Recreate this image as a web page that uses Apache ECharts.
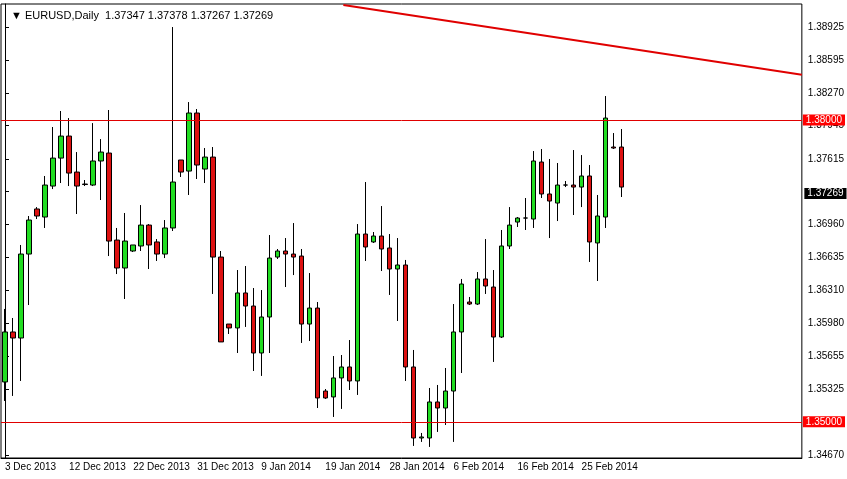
<!DOCTYPE html>
<html><head><meta charset="utf-8">
<script src="https://cdn.jsdelivr.net/npm/echarts@6/dist/echarts.min.js"></script>
<style>html,body{margin:0;padding:0;background:#fff}#c{width:847px;height:479px}</style>
</head><body><div id="c"></div>
<script>
const dates = ["3 Dec 2013","4 Dec 2013","5 Dec 2013","6 Dec 2013","8 Dec 2013","9 Dec 2013","10 Dec 2013","11 Dec 2013",
"12 Dec 2013","13 Dec 2013","15 Dec 2013","16 Dec 2013","17 Dec 2013","18 Dec 2013","19 Dec 2013","20 Dec 2013",
"22 Dec 2013","23 Dec 2013","24 Dec 2013","25 Dec 2013","26 Dec 2013","27 Dec 2013","29 Dec 2013","30 Dec 2013",
"31 Dec 2013","1 Jan 2014","2 Jan 2014","3 Jan 2014","5 Jan 2014","6 Jan 2014","7 Jan 2014","8 Jan 2014",
"9 Jan 2014","10 Jan 2014","12 Jan 2014","13 Jan 2014","14 Jan 2014","15 Jan 2014","16 Jan 2014","17 Jan 2014",
"19 Jan 2014","20 Jan 2014","21 Jan 2014","22 Jan 2014","23 Jan 2014","24 Jan 2014","26 Jan 2014","27 Jan 2014",
"28 Jan 2014","29 Jan 2014","30 Jan 2014","31 Jan 2014","2 Feb 2014","3 Feb 2014","4 Feb 2014","5 Feb 2014",
"6 Feb 2014","7 Feb 2014","9 Feb 2014","10 Feb 2014","11 Feb 2014","12 Feb 2014","13 Feb 2014","14 Feb 2014",
"16 Feb 2014","17 Feb 2014","18 Feb 2014","19 Feb 2014","20 Feb 2014","21 Feb 2014","23 Feb 2014","24 Feb 2014",
"25 Feb 2014","26 Feb 2014","27 Feb 2014","28 Feb 2014","2 Mar 2014","3 Mar 2014"];
const opens = [1.35396,1.35893,1.35833,1.36668,1.37116,1.37036,1.37344,1.37622,1.37841,1.37483,1.37364,1.37354,1.37593,1.37672,1.36807,1.36529,1.36698,1.36748,1.36956,1.36788,1.36668,1.36927,1.37603,1.37493,1.38070,1.37513,1.37632,1.36638,1.35972,1.35933,1.36281,1.36151,1.35684,1.36042,1.36638,1.36698,1.36668,1.36648,1.35972,1.36131,1.35306,1.35247,1.35436,1.35545,1.35406,1.36867,1.36788,1.36847,1.36728,1.36519,1.36559,1.35545,1.34839,1.34839,1.35197,1.35137,1.35306,1.35893,1.36191,1.36171,1.36420,1.36340,1.35843,1.36748,1.36986,1.37026,1.37016,1.37583,1.37265,1.37175,1.37354,1.37354,1.37334,1.37444,1.36778,1.37036,1.37732,1.37732];
const closes = [1.35893,1.35833,1.36668,1.37006,1.37046,1.37354,1.37622,1.37841,1.37473,1.37344,1.37359,1.37593,1.37682,1.36797,1.36529,1.36797,1.36758,1.36956,1.36758,1.36668,1.36927,1.37384,1.37483,1.38070,1.37553,1.37632,1.36638,1.35794,1.35933,1.36281,1.36151,1.35684,1.36042,1.36628,1.36698,1.36668,1.36638,1.35972,1.36131,1.35237,1.35237,1.35436,1.35545,1.35406,1.36867,1.36738,1.36847,1.36718,1.36519,1.36559,1.35545,1.34839,1.34849,1.35197,1.35137,1.35306,1.35893,1.36370,1.36171,1.36420,1.36350,1.35843,1.36748,1.36956,1.37026,1.37026,1.37593,1.37265,1.37195,1.37354,1.37354,1.37334,1.37444,1.36788,1.37046,1.38020,1.37722,1.37334];
const lows = [1.35207,1.35257,1.35406,1.36161,1.37016,1.36927,1.37314,1.37374,1.37344,1.37066,1.37344,1.37344,1.37205,1.36648,1.36469,1.36221,1.36688,1.36698,1.36519,1.36599,1.36628,1.36897,1.37434,1.37255,1.37414,1.37374,1.36271,1.35794,1.35873,1.35684,1.35943,1.35505,1.35456,1.35684,1.36619,1.36340,1.36459,1.35784,1.35803,1.35137,1.35227,1.35048,1.35128,1.35316,1.35267,1.36599,1.36778,1.36499,1.36261,1.36002,1.35406,1.34760,1.34800,1.34750,1.34899,1.34968,1.34800,1.35485,1.36161,1.36161,1.36271,1.35595,1.35833,1.36718,1.36937,1.36907,1.36927,1.37225,1.36827,1.36996,1.37334,1.37056,1.37135,1.36589,1.36400,1.36927,1.37712,1.37235];
const highs = [1.36122,1.36032,1.36758,1.37046,1.37135,1.37444,1.37931,1.38090,1.38020,1.37682,1.37404,1.37970,1.37811,1.38100,1.36927,1.37076,1.36758,1.37155,1.36966,1.36817,1.37006,1.38925,1.37603,1.38179,1.38110,1.37722,1.37732,1.36698,1.35972,1.36509,1.36549,1.36330,1.36310,1.36857,1.36718,1.36827,1.36976,1.36718,1.36479,1.36191,1.35326,1.35654,1.35664,1.35813,1.36966,1.37384,1.36887,1.37145,1.36867,1.36827,1.36609,1.35714,1.34889,1.35336,1.35366,1.35535,1.36171,1.36420,1.36241,1.36489,1.36817,1.36509,1.36907,1.37135,1.37036,1.37225,1.37692,1.37712,1.37613,1.37573,1.37394,1.37702,1.37652,1.37553,1.37255,1.38239,1.37871,1.37911];
const priceTicks = [1.34670,1.35000,1.35325,1.35655,1.35980,1.36310,1.36635,1.36960,1.37290,1.37615,1.37945,1.38270,1.38595,1.38925];
const priceLabels = [1.34670,1.35325,1.35655,1.35980,1.36310,1.36635,1.36960,1.37615,1.37945,1.38270,1.38595,1.38925];
const levels = [1.38000, 1.35000];
const bidPrice = 1.37269;
const headerText = "EURUSD,Daily  1.37347 1.37378 1.37267 1.37269";
const trendStart = [42.25, 1.39144];
const trendEnd = [99.5, 1.38451];

const SLOTS = 100;
const cats = dates.concat(new Array(SLOTS - dates.length).fill(''));
const ohlc = opens.map((o, i) => [o, closes[i], lows[i], highs[i]]);
const FONT = 'Liberation Sans';
const boxLabel = (txt, bg) => ({show: true, position: 'end', distance: 1, formatter: txt, color: '#fff',
  backgroundColor: bg, padding: [1, 3, 0, 3], fontFamily: FONT, fontSize: 10});

const chart = echarts.init(document.getElementById('c'), null, {renderer: 'canvas'});
chart.setOption({
  animation: false,
  backgroundColor: '#ffffff',
  title: {text: '\u25BC ' + headerText, left: 6, top: 5,
    textStyle: {fontFamily: FONT, fontSize: 11, fontWeight: 'normal', color: '#000'}},
  grid: {left: 1, right: 45, top: 4, bottom: 21, show: true, borderColor: '#000', borderWidth: 1, backgroundColor: '#fff'},
  xAxis: [{
    type: 'category', data: cats, boundaryGap: true,
    axisLine: {lineStyle: {color: '#000'}},
    axisTick: {interval: 7, alignWithLabel: true, length: 4, lineStyle: {color: '#000'}},
    axisLabel: {interval: 7, align: 'left', margin: 4, fontFamily: FONT, fontSize: 10, color: '#000'},
    splitLine: {show: false}
  }, {
    type: 'value', min: -0.5, max: SLOTS - 0.5, show: false
  }],
  yAxis: {
    type: 'value', position: 'right', min: 1.34640, max: 1.39154, scale: true,
    axisLine: {show: true, lineStyle: {color: '#000'}},
    axisTick: {show: true, inside: false, length: 4, customValues: priceTicks, lineStyle: {color: '#000'}},
    axisLabel: {customValues: priceLabels, margin: 6, fontFamily: FONT, fontSize: 10, color: '#000',
      formatter: v => v.toFixed(5)},
    splitLine: {show: false}
  },
  series: [{
    type: 'candlestick', data: ohlc, xAxisIndex: 0, barWidth: 5,
    itemStyle: {color: '#22dd22', color0: '#dd1111', borderColor: '#000', borderColor0: '#000', borderWidth: 1},
    markLine: {
      symbol: 'none', silent: true, animation: false,
      data: levels.map(v => ({yAxis: v, lineStyle: {color: '#e00000', width: 1, type: 'solid'},
          label: boxLabel(v.toFixed(5), '#ff0000')}))
    }
  }, {
    type: 'line', xAxisIndex: 1, data: [trendStart, trendEnd], symbol: 'none',
    lineStyle: {color: '#e00000', width: 2}, clip: true,
    markPoint: {
      silent: true, animation: false, symbol: 'rect', symbolSize: [1, 1],
      itemStyle: {color: 'rgba(0,0,0,0)'},
      data: [{coord: [SLOTS - 0.5, bidPrice],
        label: {show: true, position: 'right', distance: 2, formatter: bidPrice.toFixed(5), color: '#fff',
          backgroundColor: '#000', padding: [1, 3, 0, 3], fontFamily: FONT, fontSize: 10}}]
    }
  }]
});
</script></body></html>
